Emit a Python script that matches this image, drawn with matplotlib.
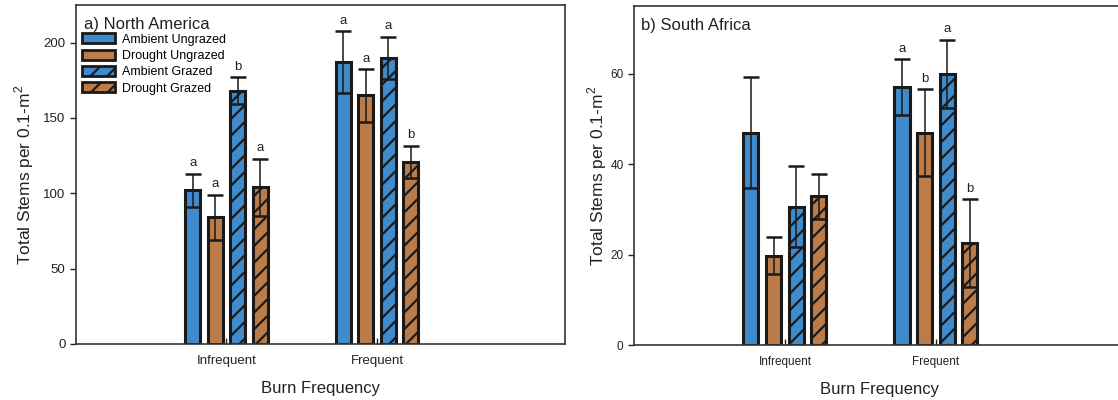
import numpy as np
import matplotlib.pyplot as plt
from matplotlib.patches import Patch

plt.rcParams['font.family'] = ['Liberation Sans', 'DejaVu Sans']
plt.rcParams['mathtext.fontset'] = 'custom'
plt.rcParams['mathtext.rm'] = 'Liberation Sans'
plt.rcParams['hatch.linewidth'] = 1.6

# data
burn = ['Infrequent', 'Frequent']
groups = ['Ambient Ungrazed', 'Drought Ungrazed', 'Ambient Grazed', 'Drought Grazed']

#north america, rows = group, cols = burn
na_mean = [[102, 187], [84, 165], [168, 190], [104, 121]]
na_se = [[11, 20.5], [15, 17.5], [9, 14], [19, 10.5]]
na_let = [['a', 'a'], ['a', 'a'], ['b', 'a'], ['a', 'b']]

#south africa
sa_mean = [[47, 57], [19.7, 47], [30.6, 60], [32.9, 22.5]]
sa_se = [[12.2, 6.2], [4.1, 9.6], [9, 7.5], [5, 9.7]]
sa_let = [['', 'a'], ['', 'b'], ['', 'a'], ['', 'b']]

blue = '#3f8bcc'
brown = '#bb7c4a'
colors = [blue, brown, blue, brown]
hatches = ['', '', '//', '//']
offs = [-0.225, -0.075, 0.075, 0.225]
xpos = np.array([1, 2])


def panel(ax, mean, se, let, ymax, ystep, title, fs, lab_off, ylpad):
    for i in range(4):
        ax.bar(xpos + offs[i], mean[i], width=0.1, color=colors[i], edgecolor='#1a1a1a',
               linewidth=2.2, hatch=hatches[i], zorder=2)
        ax.errorbar(xpos + offs[i], mean[i], yerr=se[i], fmt='none', ecolor='#1a1a1a',
                    elinewidth=1.1, capsize=5.5, capthick=1.8, zorder=3)
        for j in range(2):
            if let[i][j]:
                ax.text(xpos[j] + offs[i], mean[i][j] + se[i][j] + lab_off, let[i][j],
                        ha='center', va='bottom', fontsize=9.5, color='#222222')
    ax.set_xlim(0, 3.25)
    ax.set_ylim(0, ymax)
    ax.set_yticks(np.arange(0, ymax, ystep))
    ax.set_xticks(xpos)
    ax.set_xticklabels(burn)
    ax.tick_params(axis='y', direction='out', length=4, width=1, labelsize=fs, colors='#222222')
    ax.tick_params(axis='x', direction='in', length=4, width=1, labelsize=fs, colors='#222222', pad=8)
    for s in ax.spines.values():
        s.set_color('#333333')
        s.set_linewidth(1.2)
    ax.set_xlabel('Burn Frequency', fontsize=12, labelpad=10, color='#222222')
    ax.set_ylabel('Total Stems per 0.1-m$^{2}$', fontsize=12.5, labelpad=ylpad, color='#222222')
    ax.text(0.05, ymax * 0.965, title, fontsize=12, va='top', ha='left', color='#222222')


fig = plt.figure(figsize=(11.18, 4), dpi=100)
ax1 = fig.add_axes([0.068, 0.14, 0.4374, 0.8475])
ax2 = fig.add_axes([0.567, 0.1375, 0.439, 0.8475])

panel(ax1, na_mean, na_se, na_let, 225, 50, 'a) North America', 9.5, 3, 5)
panel(ax2, sa_mean, sa_se, sa_let, 75, 20, 'b) South Africa', 8.5, 1, 1)

handles = [Patch(facecolor=colors[i], edgecolor='#1a1a1a', linewidth=2, hatch=hatches[i]) for i in range(4)]
ax1.legend(handles, groups, loc='upper left', bbox_to_anchor=(0.0, 0.935), frameon=False,
           fontsize=9, handlelength=2.6, handleheight=0.85, labelspacing=0.32, handletextpad=0.55,
           borderaxespad=0.1)

plt.savefig('out.png', dpi=100)
